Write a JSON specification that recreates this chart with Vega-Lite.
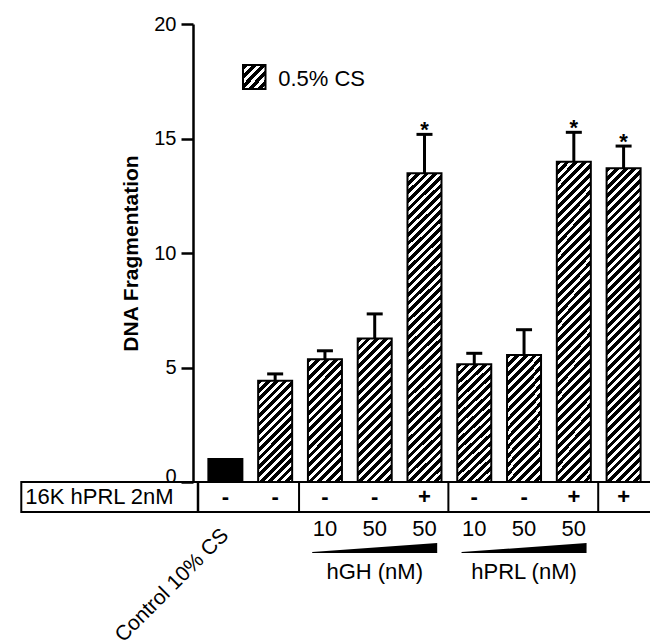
{
  "$schema": "https://vega.github.io/schema/vega-lite/v6.json",
  "width": 457,
  "height": 458,
  "autosize": {"type": "none"},
  "padding": {"left": 193, "top": 24, "right": 0, "bottom": 160},
  "config": {
    "view": {"stroke": null},
    "font": "Liberation Sans",
    "axis": {
      "domainColor": "#000", "domainWidth": 2.5, "tickColor": "#000", "tickWidth": 2.5, "tickSize": 12,
      "labelColor": "#000", "labelFontSize": 20, "labelPadding": 5,
      "titleColor": "#000", "titleFontSize": 21, "titleFontWeight": "bold", "titlePadding": 12, "grid": false
    }
  },
  "datasets": {
    "bars": [
      {"id": 1, "serum": "10% CS", "label": "Control 10% CS", "prl16k": "-", "mean": 1.0},
      {"id": 2, "serum": "0.5% CS", "prl16k": "-", "mean": 4.42, "upper": 4.72},
      {"id": 3, "serum": "0.5% CS", "agent": "hGH", "agentLabel": "hGH (nM)", "dose": 10, "prl16k": "-", "mean": 5.36, "upper": 5.73},
      {"id": 4, "serum": "0.5% CS", "agent": "hGH", "agentLabel": "hGH (nM)", "dose": 50, "prl16k": "-", "mean": 6.27, "upper": 7.34},
      {"id": 5, "serum": "0.5% CS", "agent": "hGH", "agentLabel": "hGH (nM)", "dose": 50, "prl16k": "+", "mean": 13.48, "upper": 15.18, "sig": "*"},
      {"id": 6, "serum": "0.5% CS", "agent": "hPRL", "agentLabel": "hPRL (nM)", "dose": 10, "prl16k": "-", "mean": 5.14, "upper": 5.62},
      {"id": 7, "serum": "0.5% CS", "agent": "hPRL", "agentLabel": "hPRL (nM)", "dose": 50, "prl16k": "-", "mean": 5.55, "upper": 6.65},
      {"id": 8, "serum": "0.5% CS", "agent": "hPRL", "agentLabel": "hPRL (nM)", "dose": 50, "prl16k": "+", "mean": 13.99, "upper": 15.27, "sig": "*"},
      {"id": 9, "serum": "0.5% CS", "prl16k": "+", "mean": 13.70, "upper": 14.67, "sig": "*"}
    ]
  },
  "data": {"name": "bars"},
  "encoding": {
    "x": {"field": "id", "type": "quantitative", "scale": {"domain": [0.45, 9.43], "nice": false, "zero": false}, "axis": null}
  },
  "layer": [
    {
      "transform": [{"filter": "datum.id === 1"}],
      "mark": {"type": "bar", "size": 34, "fill": "#000", "stroke": "#000", "strokeWidth": 2},
      "encoding": {
        "y": {"field": "mean", "type": "quantitative", "scale": {"domain": [0, 20], "nice": false},
          "axis": {"values": [0, 5, 10, 15, 20], "title": "DNA Fragmentation",
            "labelBaseline": {"condition": {"test": "datum.value === 0", "value": "alphabetic"}, "value": "middle"}}},
        "y2": {"datum": 0}
      }
    },
    {
      "transform": [{"filter": "datum.id !== 1 && datum.mean < 5"}],
      "mark": {"type": "bar", "size": 34, "stroke": "#000", "strokeWidth": 2,
        "fill": {"gradient": "linear", "x1": 0, "y1": 0, "x2": 0.4033, "y2": 1.2005, "stops": [
          {"offset":0,"color":"#000"},{"offset":0.034375,"color":"#000"},{"offset":0.034375,"color":"#fff"},{"offset":0.0625,"color":"#fff"},
          {"offset":0.0625,"color":"#000"},{"offset":0.096875,"color":"#000"},{"offset":0.096875,"color":"#fff"},{"offset":0.125,"color":"#fff"},
          {"offset":0.125,"color":"#000"},{"offset":0.159375,"color":"#000"},{"offset":0.159375,"color":"#fff"},{"offset":0.1875,"color":"#fff"},
          {"offset":0.1875,"color":"#000"},{"offset":0.221875,"color":"#000"},{"offset":0.221875,"color":"#fff"},{"offset":0.25,"color":"#fff"},
          {"offset":0.25,"color":"#000"},{"offset":0.284375,"color":"#000"},{"offset":0.284375,"color":"#fff"},{"offset":0.3125,"color":"#fff"},
          {"offset":0.3125,"color":"#000"},{"offset":0.346875,"color":"#000"},{"offset":0.346875,"color":"#fff"},{"offset":0.375,"color":"#fff"},
          {"offset":0.375,"color":"#000"},{"offset":0.409375,"color":"#000"},{"offset":0.409375,"color":"#fff"},{"offset":0.4375,"color":"#fff"},
          {"offset":0.4375,"color":"#000"},{"offset":0.471875,"color":"#000"},{"offset":0.471875,"color":"#fff"},{"offset":0.5,"color":"#fff"},
          {"offset":0.5,"color":"#000"},{"offset":0.534375,"color":"#000"},{"offset":0.534375,"color":"#fff"},{"offset":0.5625,"color":"#fff"},
          {"offset":0.5625,"color":"#000"},{"offset":0.596875,"color":"#000"},{"offset":0.596875,"color":"#fff"},{"offset":0.625,"color":"#fff"},
          {"offset":0.625,"color":"#000"},{"offset":0.659375,"color":"#000"},{"offset":0.659375,"color":"#fff"},{"offset":0.6875,"color":"#fff"},
          {"offset":0.6875,"color":"#000"},{"offset":0.721875,"color":"#000"},{"offset":0.721875,"color":"#fff"},{"offset":0.75,"color":"#fff"},
          {"offset":0.75,"color":"#000"},{"offset":0.784375,"color":"#000"},{"offset":0.784375,"color":"#fff"},{"offset":0.8125,"color":"#fff"},
          {"offset":0.8125,"color":"#000"},{"offset":0.846875,"color":"#000"},{"offset":0.846875,"color":"#fff"},{"offset":0.875,"color":"#fff"},
          {"offset":0.875,"color":"#000"},{"offset":0.909375,"color":"#000"},{"offset":0.909375,"color":"#fff"},{"offset":0.9375,"color":"#fff"},
          {"offset":0.9375,"color":"#000"},{"offset":0.971875,"color":"#000"},{"offset":0.971875,"color":"#fff"},{"offset":1,"color":"#fff"}
        ]}},
      "encoding": {"y": {"field": "mean", "type": "quantitative"}, "y2": {"datum": 0}}
    },
    {
      "transform": [{"filter": "datum.mean >= 5 && datum.mean < 6"}],
      "mark": {"type": "bar", "size": 34, "stroke": "#000", "strokeWidth": 2,
        "fill": {"gradient": "linear", "x1": 0, "y1": 0, "x2": 0.3292, "y2": 1.1862, "stops": [
          {"offset":0,"color":"#000"},{"offset":0.0306,"color":"#000"},{"offset":0.0306,"color":"#fff"},{"offset":0.0556,"color":"#fff"},
          {"offset":0.0556,"color":"#000"},{"offset":0.0861,"color":"#000"},{"offset":0.0861,"color":"#fff"},{"offset":0.1111,"color":"#fff"},
          {"offset":0.1111,"color":"#000"},{"offset":0.1417,"color":"#000"},{"offset":0.1417,"color":"#fff"},{"offset":0.1667,"color":"#fff"},
          {"offset":0.1667,"color":"#000"},{"offset":0.1972,"color":"#000"},{"offset":0.1972,"color":"#fff"},{"offset":0.2222,"color":"#fff"},
          {"offset":0.2222,"color":"#000"},{"offset":0.2528,"color":"#000"},{"offset":0.2528,"color":"#fff"},{"offset":0.2778,"color":"#fff"},
          {"offset":0.2778,"color":"#000"},{"offset":0.3083,"color":"#000"},{"offset":0.3083,"color":"#fff"},{"offset":0.3333,"color":"#fff"},
          {"offset":0.3333,"color":"#000"},{"offset":0.3639,"color":"#000"},{"offset":0.3639,"color":"#fff"},{"offset":0.3889,"color":"#fff"},
          {"offset":0.3889,"color":"#000"},{"offset":0.4194,"color":"#000"},{"offset":0.4194,"color":"#fff"},{"offset":0.4444,"color":"#fff"},
          {"offset":0.4444,"color":"#000"},{"offset":0.475,"color":"#000"},{"offset":0.475,"color":"#fff"},{"offset":0.5,"color":"#fff"},
          {"offset":0.5,"color":"#000"},{"offset":0.5306,"color":"#000"},{"offset":0.5306,"color":"#fff"},{"offset":0.5556,"color":"#fff"},
          {"offset":0.5556,"color":"#000"},{"offset":0.5861,"color":"#000"},{"offset":0.5861,"color":"#fff"},{"offset":0.6111,"color":"#fff"},
          {"offset":0.6111,"color":"#000"},{"offset":0.6417,"color":"#000"},{"offset":0.6417,"color":"#fff"},{"offset":0.6667,"color":"#fff"},
          {"offset":0.6667,"color":"#000"},{"offset":0.6972,"color":"#000"},{"offset":0.6972,"color":"#fff"},{"offset":0.7222,"color":"#fff"},
          {"offset":0.7222,"color":"#000"},{"offset":0.7528,"color":"#000"},{"offset":0.7528,"color":"#fff"},{"offset":0.7778,"color":"#fff"},
          {"offset":0.7778,"color":"#000"},{"offset":0.8083,"color":"#000"},{"offset":0.8083,"color":"#fff"},{"offset":0.8333,"color":"#fff"},
          {"offset":0.8333,"color":"#000"},{"offset":0.8639,"color":"#000"},{"offset":0.8639,"color":"#fff"},{"offset":0.8889,"color":"#fff"},
          {"offset":0.8889,"color":"#000"},{"offset":0.9194,"color":"#000"},{"offset":0.9194,"color":"#fff"},{"offset":0.9444,"color":"#fff"},
          {"offset":0.9444,"color":"#000"},{"offset":0.975,"color":"#000"},{"offset":0.975,"color":"#fff"},{"offset":1,"color":"#fff"}
        ]}},
      "encoding": {"y": {"field": "mean", "type": "quantitative"}, "y2": {"datum": 0}}
    },
    {
      "transform": [{"filter": "datum.mean >= 6 && datum.mean < 10"}],
      "mark": {"type": "bar", "size": 34, "stroke": "#000", "strokeWidth": 2,
        "fill": {"gradient": "linear", "x1": 0, "y1": 0, "x2": 0.2773, "y2": 1.1711, "stops": [
          {"offset":0,"color":"#000"},{"offset":0.0275,"color":"#000"},{"offset":0.0275,"color":"#fff"},{"offset":0.05,"color":"#fff"},
          {"offset":0.05,"color":"#000"},{"offset":0.0775,"color":"#000"},{"offset":0.0775,"color":"#fff"},{"offset":0.1,"color":"#fff"},
          {"offset":0.1,"color":"#000"},{"offset":0.1275,"color":"#000"},{"offset":0.1275,"color":"#fff"},{"offset":0.15,"color":"#fff"},
          {"offset":0.15,"color":"#000"},{"offset":0.1775,"color":"#000"},{"offset":0.1775,"color":"#fff"},{"offset":0.2,"color":"#fff"},
          {"offset":0.2,"color":"#000"},{"offset":0.2275,"color":"#000"},{"offset":0.2275,"color":"#fff"},{"offset":0.25,"color":"#fff"},
          {"offset":0.25,"color":"#000"},{"offset":0.2775,"color":"#000"},{"offset":0.2775,"color":"#fff"},{"offset":0.3,"color":"#fff"},
          {"offset":0.3,"color":"#000"},{"offset":0.3275,"color":"#000"},{"offset":0.3275,"color":"#fff"},{"offset":0.35,"color":"#fff"},
          {"offset":0.35,"color":"#000"},{"offset":0.3775,"color":"#000"},{"offset":0.3775,"color":"#fff"},{"offset":0.4,"color":"#fff"},
          {"offset":0.4,"color":"#000"},{"offset":0.4275,"color":"#000"},{"offset":0.4275,"color":"#fff"},{"offset":0.45,"color":"#fff"},
          {"offset":0.45,"color":"#000"},{"offset":0.4775,"color":"#000"},{"offset":0.4775,"color":"#fff"},{"offset":0.5,"color":"#fff"},
          {"offset":0.5,"color":"#000"},{"offset":0.5275,"color":"#000"},{"offset":0.5275,"color":"#fff"},{"offset":0.55,"color":"#fff"},
          {"offset":0.55,"color":"#000"},{"offset":0.5775,"color":"#000"},{"offset":0.5775,"color":"#fff"},{"offset":0.6,"color":"#fff"},
          {"offset":0.6,"color":"#000"},{"offset":0.6275,"color":"#000"},{"offset":0.6275,"color":"#fff"},{"offset":0.65,"color":"#fff"},
          {"offset":0.65,"color":"#000"},{"offset":0.6775,"color":"#000"},{"offset":0.6775,"color":"#fff"},{"offset":0.7,"color":"#fff"},
          {"offset":0.7,"color":"#000"},{"offset":0.7275,"color":"#000"},{"offset":0.7275,"color":"#fff"},{"offset":0.75,"color":"#fff"},
          {"offset":0.75,"color":"#000"},{"offset":0.7775,"color":"#000"},{"offset":0.7775,"color":"#fff"},{"offset":0.8,"color":"#fff"},
          {"offset":0.8,"color":"#000"},{"offset":0.8275,"color":"#000"},{"offset":0.8275,"color":"#fff"},{"offset":0.85,"color":"#fff"},
          {"offset":0.85,"color":"#000"},{"offset":0.8775,"color":"#000"},{"offset":0.8775,"color":"#fff"},{"offset":0.9,"color":"#fff"},
          {"offset":0.9,"color":"#000"},{"offset":0.9275,"color":"#000"},{"offset":0.9275,"color":"#fff"},{"offset":0.95,"color":"#fff"},
          {"offset":0.95,"color":"#000"},{"offset":0.9775,"color":"#000"},{"offset":0.9775,"color":"#fff"},{"offset":1,"color":"#fff"}
        ]}},
      "encoding": {"y": {"field": "mean", "type": "quantitative"}, "y2": {"datum": 0}}
    },
    {
      "transform": [{"filter": "datum.mean >= 10"}],
      "mark": {"type": "bar", "size": 34, "stroke": "#000", "strokeWidth": 2,
        "fill": {"gradient": "linear", "x1": 0, "y1": 0, "x2": 0.1186, "y2": 1.0954, "stops": [
          {"offset":0,"color":"#000"},{"offset":0.01375,"color":"#000"},{"offset":0.01375,"color":"#fff"},{"offset":0.025,"color":"#fff"},
          {"offset":0.025,"color":"#000"},{"offset":0.03875,"color":"#000"},{"offset":0.03875,"color":"#fff"},{"offset":0.05,"color":"#fff"},
          {"offset":0.05,"color":"#000"},{"offset":0.06375,"color":"#000"},{"offset":0.06375,"color":"#fff"},{"offset":0.075,"color":"#fff"},
          {"offset":0.075,"color":"#000"},{"offset":0.08875,"color":"#000"},{"offset":0.08875,"color":"#fff"},{"offset":0.1,"color":"#fff"},
          {"offset":0.1,"color":"#000"},{"offset":0.11375,"color":"#000"},{"offset":0.11375,"color":"#fff"},{"offset":0.125,"color":"#fff"},
          {"offset":0.125,"color":"#000"},{"offset":0.13875,"color":"#000"},{"offset":0.13875,"color":"#fff"},{"offset":0.15,"color":"#fff"},
          {"offset":0.15,"color":"#000"},{"offset":0.16375,"color":"#000"},{"offset":0.16375,"color":"#fff"},{"offset":0.175,"color":"#fff"},
          {"offset":0.175,"color":"#000"},{"offset":0.18875,"color":"#000"},{"offset":0.18875,"color":"#fff"},{"offset":0.2,"color":"#fff"},
          {"offset":0.2,"color":"#000"},{"offset":0.21375,"color":"#000"},{"offset":0.21375,"color":"#fff"},{"offset":0.225,"color":"#fff"},
          {"offset":0.225,"color":"#000"},{"offset":0.23875,"color":"#000"},{"offset":0.23875,"color":"#fff"},{"offset":0.25,"color":"#fff"},
          {"offset":0.25,"color":"#000"},{"offset":0.26375,"color":"#000"},{"offset":0.26375,"color":"#fff"},{"offset":0.275,"color":"#fff"},
          {"offset":0.275,"color":"#000"},{"offset":0.28875,"color":"#000"},{"offset":0.28875,"color":"#fff"},{"offset":0.3,"color":"#fff"},
          {"offset":0.3,"color":"#000"},{"offset":0.31375,"color":"#000"},{"offset":0.31375,"color":"#fff"},{"offset":0.325,"color":"#fff"},
          {"offset":0.325,"color":"#000"},{"offset":0.33875,"color":"#000"},{"offset":0.33875,"color":"#fff"},{"offset":0.35,"color":"#fff"},
          {"offset":0.35,"color":"#000"},{"offset":0.36375,"color":"#000"},{"offset":0.36375,"color":"#fff"},{"offset":0.375,"color":"#fff"},
          {"offset":0.375,"color":"#000"},{"offset":0.38875,"color":"#000"},{"offset":0.38875,"color":"#fff"},{"offset":0.4,"color":"#fff"},
          {"offset":0.4,"color":"#000"},{"offset":0.41375,"color":"#000"},{"offset":0.41375,"color":"#fff"},{"offset":0.425,"color":"#fff"},
          {"offset":0.425,"color":"#000"},{"offset":0.43875,"color":"#000"},{"offset":0.43875,"color":"#fff"},{"offset":0.45,"color":"#fff"},
          {"offset":0.45,"color":"#000"},{"offset":0.46375,"color":"#000"},{"offset":0.46375,"color":"#fff"},{"offset":0.475,"color":"#fff"},
          {"offset":0.475,"color":"#000"},{"offset":0.48875,"color":"#000"},{"offset":0.48875,"color":"#fff"},{"offset":0.5,"color":"#fff"},
          {"offset":0.5,"color":"#000"},{"offset":0.51375,"color":"#000"},{"offset":0.51375,"color":"#fff"},{"offset":0.525,"color":"#fff"},
          {"offset":0.525,"color":"#000"},{"offset":0.53875,"color":"#000"},{"offset":0.53875,"color":"#fff"},{"offset":0.55,"color":"#fff"},
          {"offset":0.55,"color":"#000"},{"offset":0.56375,"color":"#000"},{"offset":0.56375,"color":"#fff"},{"offset":0.575,"color":"#fff"},
          {"offset":0.575,"color":"#000"},{"offset":0.58875,"color":"#000"},{"offset":0.58875,"color":"#fff"},{"offset":0.6,"color":"#fff"},
          {"offset":0.6,"color":"#000"},{"offset":0.61375,"color":"#000"},{"offset":0.61375,"color":"#fff"},{"offset":0.625,"color":"#fff"},
          {"offset":0.625,"color":"#000"},{"offset":0.63875,"color":"#000"},{"offset":0.63875,"color":"#fff"},{"offset":0.65,"color":"#fff"},
          {"offset":0.65,"color":"#000"},{"offset":0.66375,"color":"#000"},{"offset":0.66375,"color":"#fff"},{"offset":0.675,"color":"#fff"},
          {"offset":0.675,"color":"#000"},{"offset":0.68875,"color":"#000"},{"offset":0.68875,"color":"#fff"},{"offset":0.7,"color":"#fff"},
          {"offset":0.7,"color":"#000"},{"offset":0.71375,"color":"#000"},{"offset":0.71375,"color":"#fff"},{"offset":0.725,"color":"#fff"},
          {"offset":0.725,"color":"#000"},{"offset":0.73875,"color":"#000"},{"offset":0.73875,"color":"#fff"},{"offset":0.75,"color":"#fff"},
          {"offset":0.75,"color":"#000"},{"offset":0.76375,"color":"#000"},{"offset":0.76375,"color":"#fff"},{"offset":0.775,"color":"#fff"},
          {"offset":0.775,"color":"#000"},{"offset":0.78875,"color":"#000"},{"offset":0.78875,"color":"#fff"},{"offset":0.8,"color":"#fff"},
          {"offset":0.8,"color":"#000"},{"offset":0.81375,"color":"#000"},{"offset":0.81375,"color":"#fff"},{"offset":0.825,"color":"#fff"},
          {"offset":0.825,"color":"#000"},{"offset":0.83875,"color":"#000"},{"offset":0.83875,"color":"#fff"},{"offset":0.85,"color":"#fff"},
          {"offset":0.85,"color":"#000"},{"offset":0.86375,"color":"#000"},{"offset":0.86375,"color":"#fff"},{"offset":0.875,"color":"#fff"},
          {"offset":0.875,"color":"#000"},{"offset":0.88875,"color":"#000"},{"offset":0.88875,"color":"#fff"},{"offset":0.9,"color":"#fff"},
          {"offset":0.9,"color":"#000"},{"offset":0.91375,"color":"#000"},{"offset":0.91375,"color":"#fff"},{"offset":0.925,"color":"#fff"},
          {"offset":0.925,"color":"#000"},{"offset":0.93875,"color":"#000"},{"offset":0.93875,"color":"#fff"},{"offset":0.95,"color":"#fff"},
          {"offset":0.95,"color":"#000"},{"offset":0.96375,"color":"#000"},{"offset":0.96375,"color":"#fff"},{"offset":0.975,"color":"#fff"},
          {"offset":0.975,"color":"#000"},{"offset":0.98875,"color":"#000"},{"offset":0.98875,"color":"#fff"},{"offset":1,"color":"#fff"}
        ]}},
      "encoding": {"y": {"field": "mean", "type": "quantitative"}, "y2": {"datum": 0}}
    },
    {
      "transform": [{"filter": "isValid(datum.upper)"}],
      "mark": {"type": "rule", "color": "#000", "strokeWidth": 3},
      "encoding": {"y": {"field": "mean", "type": "quantitative"}, "y2": {"field": "upper"}}
    },
    {
      "transform": [{"filter": "isValid(datum.upper)"}],
      "mark": {"type": "tick", "orient": "horizontal", "color": "#000", "size": 16, "thickness": 3, "opacity": 1},
      "encoding": {"y": {"field": "upper", "type": "quantitative"}}
    },
    {
      "transform": [{"filter": "isValid(datum.sig)"}],
      "mark": {"type": "text", "fontSize": 22, "fontWeight": "bold", "baseline": "alphabetic", "dy": 3, "color": "#000"},
      "encoding": {"y": {"field": "upper", "type": "quantitative"}, "text": {"field": "sig"}}
    },
    {
      "transform": [{"filter": "datum.id === 1"}],
      "mark": {"type": "rect", "filled": false, "color": "#000", "strokeWidth": 2},
      "encoding": {"x": {"datum": -3.1}, "x2": {"datum": 9.8}, "y": {"datum": 0}, "y2": {"datum": -1.31}}
    },
    {
      "transform": [{"filter": "datum.id === 1"}],
      "mark": {"type": "rule", "color": "#000", "strokeWidth": 2.5},
      "encoding": {"x": {"datum": 0.45}, "y": {"datum": 0}, "y2": {"datum": -1.31}}
    },
    {
      "transform": [{"filter": "datum.id === 1"}],
      "mark": {"type": "rule", "color": "#000", "strokeWidth": 2},
      "encoding": {"x": {"datum": 2.48}, "y": {"datum": 0}, "y2": {"datum": -1.31}}
    },
    {
      "transform": [{"filter": "datum.id === 1"}],
      "mark": {"type": "rule", "color": "#000", "strokeWidth": 2},
      "encoding": {"x": {"datum": 5.48}, "y": {"datum": 0}, "y2": {"datum": -1.31}}
    },
    {
      "transform": [{"filter": "datum.id === 1"}],
      "mark": {"type": "rule", "color": "#000", "strokeWidth": 2},
      "encoding": {"x": {"datum": 8.49}, "y": {"datum": 0}, "y2": {"datum": -1.31}}
    },
    {
      "transform": [{"filter": "datum.id === 1"}],
      "mark": {"type": "text", "text": "16K hPRL 2nM", "align": "left", "baseline": "middle", "fontSize": 22, "color": "#000"},
      "encoding": {"x": {"datum": -3.02}, "y": {"datum": -0.655}}
    },
    {
      "mark": {"type": "text", "fontSize": 22, "fontWeight": "bold", "baseline": "middle", "color": "#000"},
      "encoding": {"y": {"datum": -0.655}, "text": {"field": "prl16k"}}
    },
    {
      "transform": [{"filter": "isValid(datum.dose)"}],
      "mark": {"type": "text", "fontSize": 22, "baseline": "middle", "color": "#000"},
      "encoding": {"y": {"datum": -2.05}, "text": {"field": "dose", "type": "quantitative"}}
    },
    {
      "transform": [
        {"filter": "isValid(datum.agent)"},
        {"aggregate": [{"op": "mean", "field": "id", "as": "id"}], "groupby": ["agentLabel"]}
      ],
      "layer": [
        {
          "mark": {"type": "point", "shape": "M-1,0.065L1,-0.08L1,0.08L-1,0.08Z", "size": 15625, "filled": true, "color": "#000", "opacity": 1, "strokeWidth": 0},
          "encoding": {"y": {"datum": -2.88}}
        },
        {
          "mark": {"type": "text", "fontSize": 22, "baseline": "middle", "color": "#000"},
          "encoding": {"y": {"datum": -3.93}, "text": {"field": "agentLabel"}}
        }
      ]
    },
    {
      "transform": [{"filter": "datum.id === 1"}],
      "mark": {"type": "text", "fontSize": 21, "align": "right", "baseline": "middle", "angle": -45, "color": "#000"},
      "encoding": {"y": {"datum": -2.2}, "text": {"field": "label"}}
    },
    {
      "transform": [{"filter": "datum.id === 2"}],
      "mark": {"type": "rect", "stroke": "#000", "strokeWidth": 2,
        "fill": {"gradient": "linear", "x1": 0, "y1": 0, "x2": 1, "y2": 1, "stops": [
          {"offset":0,"color":"#000"},{"offset":0.11,"color":"#000"},{"offset":0.11,"color":"#fff"},{"offset":0.2,"color":"#fff"},
          {"offset":0.2,"color":"#000"},{"offset":0.31,"color":"#000"},{"offset":0.31,"color":"#fff"},{"offset":0.4,"color":"#fff"},
          {"offset":0.4,"color":"#000"},{"offset":0.51,"color":"#000"},{"offset":0.51,"color":"#fff"},{"offset":0.6,"color":"#fff"},
          {"offset":0.6,"color":"#000"},{"offset":0.71,"color":"#000"},{"offset":0.71,"color":"#fff"},{"offset":0.8,"color":"#fff"},
          {"offset":0.8,"color":"#000"},{"offset":0.91,"color":"#000"},{"offset":0.91,"color":"#fff"},{"offset":1,"color":"#fff"}
        ]}},
      "encoding": {"x": {"datum": 1.354}, "x2": {"datum": 1.806}, "y": {"datum": 18.21}, "y2": {"datum": 17.16}}
    },
    {
      "transform": [{"filter": "datum.id === 2"}],
      "mark": {"type": "text", "fontSize": 22, "align": "left", "baseline": "middle", "color": "#000"},
      "encoding": {"x": {"datum": 2.06}, "y": {"datum": 17.6}, "text": {"field": "serum"}}
    }
  ]
}
